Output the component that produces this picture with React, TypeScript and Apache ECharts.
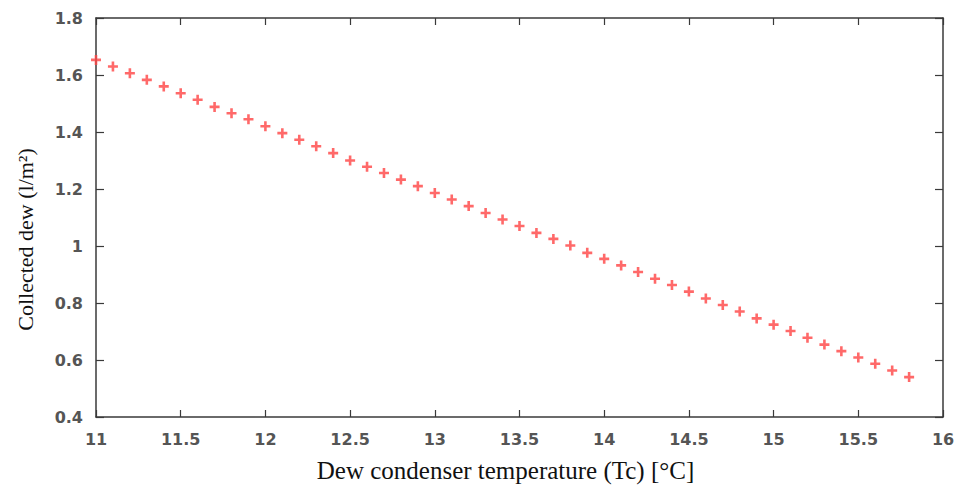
import * as echarts from "echarts";
import { useEffect, useRef } from "react";

// condenser temperature (°C) and collected dew (l/m²)
const temps = [
  11, 11.1, 11.2, 11.3, 11.4, 11.5, 11.6, 11.7, 11.8, 11.9,
  12, 12.1, 12.2, 12.3, 12.4, 12.5, 12.6, 12.7, 12.8, 12.9,
  13, 13.1, 13.2, 13.3, 13.4, 13.5, 13.6, 13.7, 13.8, 13.9,
  14, 14.1, 14.2, 14.3, 14.4, 14.5, 14.6, 14.7, 14.8, 14.9,
  15, 15.1, 15.2, 15.3, 15.4, 15.5, 15.6, 15.7, 15.8,
];
const dew = [
  1.653, 1.63, 1.606, 1.583, 1.56, 1.536, 1.513, 1.488, 1.466, 1.445,
  1.42, 1.396, 1.373, 1.35, 1.326, 1.3, 1.278, 1.256, 1.233, 1.21,
  1.186, 1.163, 1.14, 1.116, 1.093, 1.07, 1.046, 1.025, 1.002, 0.976,
  0.955, 0.932, 0.909, 0.885, 0.863, 0.84, 0.816, 0.793, 0.77, 0.746,
  0.724, 0.702, 0.678, 0.654, 0.631, 0.609, 0.587, 0.563, 0.54,
];

const xTitle = "Dew condenser temperature (Tc) [°C]";
const yTitle = "Collected dew (l/m²)";

const PLUS = "path://M3.7,0H6.3V3.7H10V6.3H6.3V10H3.7V6.3H0V3.7H3.7Z";
const AXIS_COLOR = "#3a3a3a";
const LABEL_FONT = {
  fontFamily: "DejaVu Sans",
  fontSize: 16,
  fontWeight: "bold" as const,
  color: "#555",
};
const TITLE_FONT = {
  fontFamily: "Liberation Serif",
  color: "#111",
};

function getOption() {
  const xBase = {
    type: "value" as const,
    min: 11,
    max: 16,
    interval: 0.5,
    splitLine: { show: false },
    axisLine: { show: true, lineStyle: { color: AXIS_COLOR, width: 1.5 } },
    axisTick: { show: true, inside: true, length: 7, lineStyle: { color: AXIS_COLOR, width: 1.2 } },
  };
  const yBase = {
    type: "value" as const,
    min: 0.4,
    max: 1.8,
    interval: 0.2,
    splitLine: { show: false },
    axisLine: { show: true, lineStyle: { color: AXIS_COLOR, width: 1.5 } },
    axisTick: { show: true, inside: true, length: 8, lineStyle: { color: AXIS_COLOR, width: 1.2 } },
  };
  return {
    animation: false,
    backgroundColor: "#fff",
    grid: { left: 96, top: 18, width: 847, height: 400 },
    xAxis: [
      {
        ...xBase,
        position: "bottom",
        name: xTitle,
        nameLocation: "middle",
        nameGap: 41,
        nameTextStyle: { ...TITLE_FONT, fontSize: 25, padding: [0, 28, 0, 0] },
        axisLabel: { ...LABEL_FONT, margin: 14 },
      },
      { ...xBase, position: "top", axisLabel: { show: false } },
    ],
    yAxis: [
      {
        ...yBase,
        position: "left",
        name: yTitle,
        nameLocation: "middle",
        nameGap: 60,
        nameTextStyle: { ...TITLE_FONT, fontSize: 22, padding: [0, 44, 0, 0] },
        axisLabel: {
          ...LABEL_FONT,
          margin: 13,
          formatter: (v: number) => String(Math.round(v * 10) / 10),
        },
      },
      { ...yBase, position: "right", axisLabel: { show: false } },
    ],
    series: [
      {
        type: "scatter",
        xAxisIndex: 0,
        yAxisIndex: 0,
        symbol: PLUS,
        symbolSize: 10,
        itemStyle: { color: "#ff4444" },
        data: temps.map((t, i) => [t, dew[i]]),
      },
    ],
  };
}

export default function App() {
  const ref = useRef<HTMLDivElement>(null);

  useEffect(() => {
    if (!ref.current) return;
    const chart = echarts.init(ref.current, null, { renderer: "svg" });
    chart.setOption(getOption());
    return () => chart.dispose();
  }, []);

  return (
    <div
      ref={ref}
      style={{ position: "fixed", left: 0, top: 0, width: 960, height: 488, background: "#fff" }}
    />
  );
}
